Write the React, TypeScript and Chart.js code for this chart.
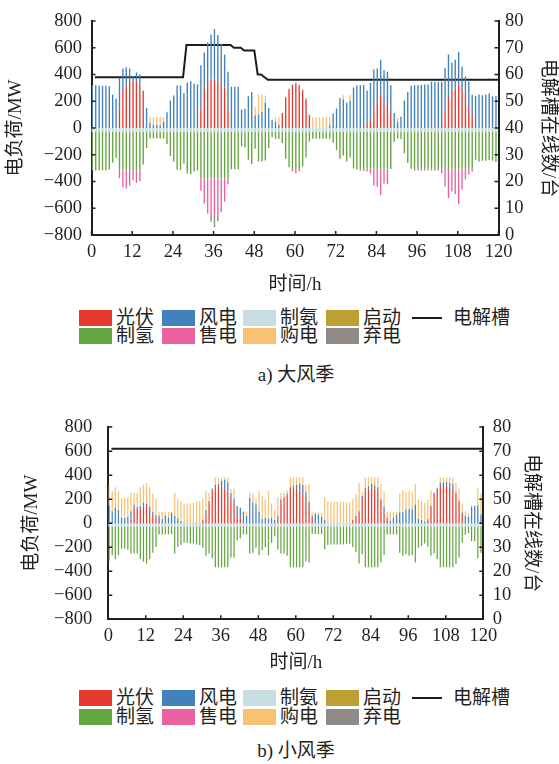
import React, { useEffect, useRef } from 'react';
import { Chart, registerables } from 'chart.js';

Chart.register(...registerables);

// ---------- categories ----------
const HOURS: string[] = Array.from({ length: 120 }, (_, i) => String(i + 1));

// ---------- a) 大风季 ----------
const pvA = [
  0, 0, 0, 0, 0, 0, 0, 0, 145, 270, 315, 345,
  355, 345, 320, 255, 0, 0, 0, 0, 0, 0, 0, 0,
  0, 0, 0, 0, 0, 0, 0, 0, 145, 300, 350, 362,
  365, 352, 330, 305, 135, 0, 0, 0, 0, 0, 0, 0,
  0, 0, 0, 0, 0, 0, 0, 0, 105, 225, 288, 320,
  330, 318, 282, 215, 95, 0, 0, 0, 0, 0, 0, 0,
  0, 0, 0, 0, 0, 0, 0, 0, 0, 38, 55, 138,
  188, 243, 170, 195, 105, 0, 0, 0, 0, 0, 0, 0,
  0, 0, 0, 0, 0, 0, 0, 38, 125, 225, 288, 295,
  325, 295, 238, 150, 88, 0, 0, 0, 0, 0, 0, 0,
];
const windA = [
  320, 320, 318, 315, 315, 312, 250, 220, 230, 175, 140, 100,
  30, 70, 80, 25, 150, 40, 25, 25, 20, 45, 118, 205,
  243, 318, 318, 262, 340, 350, 330, 325, 325, 265, 290, 338,
  375, 343, 300, 245, 285, 308, 308, 308, 138, 143, 238, 270,
  95, 100, 120, 188, 150, 62, 45, 25, 8, 5, 5, 5,
  8, 5, 5, 5, 5, 0, 0, 0, 0, 0, 20, 108,
  145, 225, 215, 188, 205, 302, 320, 320, 322, 242, 283, 300,
  257, 267, 262, 225, 215, 112, 45, 85, 205, 270, 315, 320,
  320, 322, 325, 325, 345, 345, 345, 307, 325, 325, 200, 215,
  245, 165, 147, 198, 160, 240, 250, 245, 250, 258, 238, 240,
];
const buyA = [
  0, 0, 0, 0, 0, 0, 0, 0, 0, 0, 0, 0,
  0, 0, 0, 0, 0, 40, 55, 55, 60, 35, 0, 0,
  0, 0, 0, 0, 0, 0, 0, 0, 0, 0, 0, 0,
  0, 0, 0, 0, 0, 0, 0, 0, 0, 0, 0, 0,
  60, 150, 130, 55, 0, 0, 35, 55, 0, 0, 0, 0,
  0, 0, 0, 0, 0, 80, 80, 80, 80, 80, 60, 0,
  0, 0, 30, 0, 40, 0, 0, 0, 0, 0, 0, 0,
  0, 0, 0, 0, 0, 0, 30, 0, 0, 0, 0, 0,
  0, 0, 0, 0, 0, 0, 0, 0, 0, 0, 0, 0,
  0, 0, 0, 0, 0, 0, 0, 0, 0, 0, 0, 0,
];
const h2A = [
  -290, -290, -290, -290, -290, -285, -235, -200, -290, -290, -290, -290,
  -290, -290, -290, -247, -125, -53, -53, -53, -53, -53, -95, -185,
  -225, -287, -287, -240, -315, -320, -300, -293, -350, -350, -350, -350,
  -350, -350, -350, -350, -350, -283, -283, -283, -113, -120, -213, -245,
  -130, -225, -225, -218, -125, -45, -55, -55, -88, -205, -268, -280,
  -280, -280, -262, -195, -75, -55, -55, -55, -55, -55, -55, -85,
  -140, -205, -180, -225, -195, -277, -285, -280, -280, -280, -280, -280,
  -280, -280, -280, -280, -282, -80, -53, -57, -163, -237, -280, -280,
  -280, -280, -280, -280, -280, -280, -280, -280, -280, -280, -280, -280,
  -280, -280, -280, -280, -280, -213, -225, -220, -220, -215, -220, -230,
];
const sellA = [
  0, 0, 0, 0, 0, 0, 0, 0, -60, -130, -137, -115,
  -75, -97, -83, 0, 0, 0, 0, 0, 0, 0, 0, 0,
  0, 0, 0, 0, 0, 0, 0, 0, -95, -190, -265, -275,
  -275, -275, -255, -175, -45, 0, 0, 0, 0, 0, 0, 0,
  0, 0, 0, 0, 0, 0, 0, 0, 0, 0, 0, -20,
  -33, -18, 0, 0, 0, 0, 0, 0, 0, 0, 0, 0,
  0, 0, 0, 0, 0, 0, 0, -15, -17, -20, -35, -125,
  -135, -195, -110, -115, 0, 0, 0, 0, 0, 0, 0, -12,
  -12, -12, -12, -12, -12, -12, -12, -33, -133, -220, -170, -190,
  -265, -155, -80, -43, -20, 0, 0, 0, 0, 0, 0, 0,
];
const curtailA = [
  0, 0, 0, 0, 0, 0, 0, 0, 0, 0, 0, 0,
  0, 0, 0, 0, 0, 0, 0, 0, 0, 0, 0, 0,
  0, 0, 0, 0, 0, 0, 0, 0, 0, 0, 0, -50,
  -90, -45, 0, 0, 0, 0, 0, 0, 0, 0, 0, 0,
  0, 0, 0, 0, 0, 0, 0, 0, 0, 0, 0, 0,
  0, 0, 0, 0, 0, 0, 0, 0, 0, 0, 0, 0,
  0, 0, 0, 0, 0, 0, 0, 0, 0, 0, 0, 0,
  0, 0, 0, 0, 0, 0, 0, 0, 0, 0, 0, 0,
  0, 0, 0, 0, 0, 0, 0, 0, 0, 0, 0, 0,
  0, 0, 0, 0, 0, 0, 0, 0, 0, 0, 0, 0,
];
const unitsA = [
  59, 59, 59, 59, 59, 59, 59, 59, 59, 59, 59, 59,
  59, 59, 59, 59, 59, 59, 59, 59, 59, 59, 59, 59,
  59, 59, 59, 71, 71, 71, 71, 71, 71, 71, 71, 71,
  71, 71, 71, 71, 71, 70, 70, 70, 69, 69, 69, 69,
  60, 60, 59, 58, 58, 58, 58, 58, 58, 58, 58, 58,
  58, 58, 58, 58, 58, 58, 58, 58, 58, 58, 58, 58,
  58, 58, 58, 58, 58, 58, 58, 58, 58, 58, 58, 58,
  58, 58, 58, 58, 58, 58, 58, 58, 58, 58, 58, 58,
  58, 58, 58, 58, 58, 58, 58, 58, 58, 58, 58, 58,
  58, 58, 58, 58, 58, 58, 58, 58, 58, 58, 58, 58,
];

// ---------- shared 制氨 ----------
const ammonia = [
  -25, -25, -25, -25, -25, -25, -25, -25, -25, -25, -25, -25,
  -25, -25, -25, -25, -25, -25, -25, -25, -25, -25, -25, -25,
  -25, -25, -25, -25, -25, -25, -25, -25, -25, -25, -25, -25,
  -25, -25, -25, -25, -25, -25, -25, -25, -25, -25, -25, -25,
  -25, -25, -25, -25, -25, -25, -25, -25, -25, -25, -25, -25,
  -25, -25, -25, -25, -25, -25, -25, -25, -25, -25, -25, -25,
  -25, -25, -25, -25, -25, -25, -25, -25, -25, -25, -25, -25,
  -25, -25, -25, -25, -25, -25, -25, -25, -25, -25, -25, -25,
  -25, -25, -25, -25, -25, -25, -25, -25, -25, -25, -25, -25,
  -25, -25, -25, -25, -25, -25, -25, -25, -25, -25, -25, -25,
];

// ---------- b) 小风季 ----------
const pvB = [
  0, 0, 0, 0, 0, 0, 0, 30, 122, 117, 109, 136,
  144, 90, 68, 41, 27, 0, 0, 0, 0, 0, 0, 0,
  0, 0, 0, 0, 0, 0, 27, 82, 177, 272, 299, 307,
  307, 286, 264, 204, 163, 54, 41, 0, 0, 0, 0, 0,
  0, 0, 0, 0, 0, 0, 27, 177, 210, 231, 286, 297,
  291, 272, 240, 199, 136, 46, 0, 0, 0, 0, 0, 0,
  0, 0, 0, 0, 0, 0, 27, 40, 90, 218, 272, 286,
  299, 291, 258, 177, 90, 41, 0, 0, 0, 0, 0, 0,
  0, 0, 0, 0, 0, 0, 33, 136, 245, 286, 313, 318,
  313, 299, 286, 245, 182, 82, 0, 0, 0, 0, 0, 0,
];
const windB = [
  144, 100, 128, 110, 46, 46, 54, 70, 33, 18, 35, 35,
  19, 46, 27, 27, 33, 35, 63, 46, 90, 60, 41, 19,
  0, 0, 0, 0, 0, 0, 0, 27, 8, 14, 19, 20,
  47, 76, 76, 46, 41, 90, 87, 95, 60, 210, 172, 155,
  95, 35, 46, 40, 46, 27, 33, 22, 5, 14, 13, 16,
  27, 55, 78, 59, 41, 17, 82, 73, 54, 27, 0, 0,
  0, 0, 0, 0, 0, 0, 0, 20, 10, 8, 19, 21,
  28, 22, 41, 22, 46, 5, 19, 46, 68, 90, 95, 117,
  117, 117, 155, 35, 27, 14, 0, 9, 8, 5, 22, 22,
  27, 36, 41, 13, 8, 8, 60, 54, 136, 144, 150, 73,
];
const buyB = [
  169, 167, 172, 157, 164, 164, 164, 153, 98, 118, 156, 147,
  172, 164, 150, 131, 35, 60, 32, 49, 0, 193, 158, 163,
  163, 163, 169, 169, 177, 182, 177, 163, 68, 5, 63, 54,
  27, 19, 41, 36, 82, 0, 0, 0, 35, 43, 73, 49,
  172, 191, 153, 227, 117, 82, 158, 54, 38, 27, 82, 68,
  63, 54, 63, 60, 150, 27, 8, 17, 36, 191, 182, 177,
  177, 177, 177, 177, 172, 172, 172, 180, 235, 33, 90, 74,
  54, 68, 82, 128, 128, 49, 76, 49, 27, 155, 177, 142,
  155, 147, 172, 169, 163, 155, 163, 127, 0, 8, 46, 41,
  41, 46, 54, 82, 96, 73, 35, 28, 14, 6, 141, 172,
];
const h2B = [
  -288, -242, -275, -242, -185, -185, -193, -228, -228, -228, -275, -293,
  -310, -275, -220, -174, -70, -70, -70, -70, -65, -228, -174, -157,
  -138, -138, -144, -144, -152, -157, -179, -247, -228, -266, -342, -342,
  -342, -342, -342, -261, -261, -119, -103, -70, -70, -228, -220, -179,
  -242, -201, -174, -242, -138, -84, -193, -228, -228, -247, -342, -342,
  -342, -342, -342, -293, -302, -65, -65, -65, -65, -193, -157, -152,
  -152, -152, -152, -152, -147, -147, -174, -215, -310, -234, -342, -342,
  -342, -342, -342, -302, -239, -70, -70, -70, -70, -220, -247, -234,
  -247, -239, -302, -179, -165, -144, -171, -247, -228, -274, -342, -342,
  -342, -342, -342, -315, -261, -138, -70, -57, -125, -125, -266, -220,
];
const sellB: number[] = [];
const curtailB: number[] = [];
const unitsB = [
  71, 71, 71, 71, 71, 71, 71, 71, 71, 71, 71, 71,
  71, 71, 71, 71, 71, 71, 71, 71, 71, 71, 71, 71,
  71, 71, 71, 71, 71, 71, 71, 71, 71, 71, 71, 71,
  71, 71, 71, 71, 71, 71, 71, 71, 71, 71, 71, 71,
  71, 71, 71, 71, 71, 71, 71, 71, 71, 71, 71, 71,
  71, 71, 71, 71, 71, 71, 71, 71, 71, 71, 71, 71,
  71, 71, 71, 71, 71, 71, 71, 71, 71, 71, 71, 71,
  71, 71, 71, 71, 71, 71, 71, 71, 71, 71, 71, 71,
  71, 71, 71, 71, 71, 71, 71, 71, 71, 71, 71, 71,
  71, 71, 71, 71, 71, 71, 71, 71, 71, 71, 71, 71,
];

// ---------- styles ----------
const COL = {
  pv: '#e4392f',
  wind: '#4281bb',
  ammonia: '#c7dde2',
  start: '#bd9f33',
  h2: '#64a540',
  sell: '#e9629f',
  buy: '#f8c274',
  curtail: '#908a86',
  line: '#1c1c1c',
  text: '#231f20',
  axis: '#231f20',
};
const FONT = "'Liberation Serif', 'Noto Sans CJK SC', serif";

type Geom = {
  H: number; top: number; bottom: number; left: number; right: number;
  yLabPad: number; y2LabPad: number; yTitlePad: number; y2TitlePad: number;
  xLabPad: number; xTitlePad: number;
};

const inwardTicks = {
  id: 'inwardTicks',
  afterDatasetsDraw(chart: any) {
    const { ctx, chartArea } = chart;
    const { left, right, bottom } = chartArea;
    const L = 4;
    ctx.save();
    ctx.strokeStyle = COL.axis;
    ctx.lineWidth = 1.5;
    ctx.beginPath();
    const y = chart.scales.y;
    y.ticks.forEach((t: any) => {
      const p = y.getPixelForValue(t.value);
      ctx.moveTo(left, p); ctx.lineTo(left + L, p);
    });
    const y2 = chart.scales.y2;
    y2.ticks.forEach((t: any) => {
      const p = y2.getPixelForValue(t.value);
      ctx.moveTo(right - L, p); ctx.lineTo(right, p);
    });
    const xl = chart.scales.xl;
    xl.ticks.forEach((t: any) => {
      const p = xl.getPixelForValue(t.value);
      ctx.moveTo(p, bottom); ctx.lineTo(p, bottom - L);
    });
    ctx.stroke();
    ctx.restore();
  },
};

function fmt(v: any) {
  const n = Number(v);
  return n < 0 ? '\u2212' + Math.abs(n) : String(n);
}

type PanelProps = {
  geom: Geom;
  pv: number[]; wind: number[]; buy: number[]; h2: number[];
  sell: number[]; curtail: number[]; units: number[];
  style: React.CSSProperties;
};

function Panel(p: PanelProps) {
  const ref = useRef<HTMLCanvasElement | null>(null);
  useEffect(() => {
    const g = p.geom;
    const tickFont = { family: FONT, size: 18.5 };
    const titleFont = { family: FONT, size: 19 };
    const barCommon = { barPercentage: 0.8, categoryPercentage: 1, borderWidth: 0 };
    const chart = new Chart(ref.current as HTMLCanvasElement, {
      type: 'bar',
      data: {
        labels: HOURS,
        datasets: [
          { label: '光伏', data: p.pv, backgroundColor: COL.pv, ...barCommon },
          { label: '风电', data: p.wind, backgroundColor: COL.wind, ...barCommon },
          { label: '购电', data: p.buy, backgroundColor: COL.buy, ...barCommon },
          { label: '制氨', data: ammonia, backgroundColor: COL.ammonia, barPercentage: 1, categoryPercentage: 1, borderWidth: 0 },
          { label: '制氢', data: p.h2, backgroundColor: COL.h2, ...barCommon },
          { label: '售电', data: p.sell, backgroundColor: COL.sell, ...barCommon },
          { label: '弃电', data: p.curtail, backgroundColor: COL.curtail, ...barCommon },
          {
            type: 'line',
            label: '电解槽',
            data: p.units.map((v, i) => ({ x: i + 1, y: v })),
            xAxisID: 'xl',
            yAxisID: 'y2',
            borderColor: COL.line,
            borderWidth: 2,
            pointRadius: 0,
            fill: false,
            tension: 0,
          } as any,
        ],
      },
      options: {
        animation: false,
        responsive: false,
        maintainAspectRatio: false,
        events: [],
        layout: { padding: { top: g.top, left: 0, right: 0, bottom: 0 } },
        plugins: { legend: { display: false }, tooltip: { enabled: false } },
        scales: {
          x: { type: 'category', stacked: true, display: false, offset: true },
          xl: {
            type: 'linear',
            position: 'bottom',
            offset: false,
            min: 0,
            max: 120,
            ticks: { stepSize: 12, padding: g.xLabPad, font: tickFont, color: COL.text, maxRotation: 0, autoSkip: false },
            grid: { display: false, drawTicks: false, offset: false },
            border: { display: true, color: COL.axis, width: 2 },
            title: { display: true, text: '时间/h', font: titleFont, color: COL.text, padding: { top: 0, bottom: g.xTitlePad } },
            afterFit: (s: any) => { s.height = g.H - g.bottom; },
          },
          y: {
            type: 'linear',
            position: 'left',
            stacked: true,
            min: -800,
            max: 800,
            ticks: { stepSize: 200, autoSkip: false, padding: g.yLabPad, font: tickFont, color: COL.text, callback: (v: any) => fmt(v) },
            grid: { display: false, drawTicks: false },
            border: { display: true, color: COL.axis, width: 2 },
            title: { display: true, text: '电负荷/MW', font: titleFont, color: COL.text, padding: { top: g.yTitlePad, bottom: 0 } },
            afterFit: (s: any) => { s.width = g.left; },
          },
          y2: {
            type: 'linear',
            position: 'right',
            min: 0,
            max: 80,
            ticks: { stepSize: 10, autoSkip: false, padding: g.y2LabPad, font: tickFont, color: COL.text },
            grid: { display: false, drawTicks: false },
            border: { display: true, color: COL.axis, width: 2 },
            title: { display: true, text: '电解槽在线数/台', font: titleFont, color: COL.text, padding: { top: g.y2TitlePad, bottom: 0 } },
            afterFit: (s: any) => { s.width = 559 - g.right; },
          },
        },
      } as any,
      plugins: [inwardTicks],
    });
    return () => chart.destroy();
  }, []);
  return (
    <canvas
      ref={ref}
      width={559}
      height={p.geom.H}
      style={{ position: 'absolute', left: 0, width: 559, height: p.geom.H, ...p.style }}
    />
  );
}

const LEG_ROW1 = [
  { label: '光伏', color: COL.pv },
  { label: '风电', color: COL.wind },
  { label: '制氨', color: COL.ammonia },
  { label: '启动', color: COL.start },
];
const LEG_ROW2 = [
  { label: '制氢', color: COL.h2 },
  { label: '售电', color: COL.sell },
  { label: '购电', color: COL.buy },
  { label: '弃电', color: COL.curtail },
];
const LEG_X = [79, 162, 243, 326];

function Legend({ y1, y2 }: { y1: number; y2: number }) {
  const textStyle: React.CSSProperties = {
    position: 'absolute', fontFamily: FONT, fontSize: 19, lineHeight: '22px',
    color: COL.text, whiteSpace: 'nowrap',
  };
  const row = (items: { label: string; color: string }[], y: number) =>
    items.map((it, i) => (
      <React.Fragment key={it.label + y}>
        <div style={{ position: 'absolute', left: LEG_X[i], top: y - 8, width: 33, height: 16, background: it.color }} />
        <div style={{ ...textStyle, left: LEG_X[i] + 37, top: y - 11 }}>{it.label}</div>
      </React.Fragment>
    ));
  return (
    <>
      {row(LEG_ROW1, y1)}
      {row(LEG_ROW2, y2)}
      <div style={{ position: 'absolute', left: 412, top: y1 - 1, width: 30, height: 2, background: COL.line }} />
      <div style={{ ...textStyle, left: 453, top: y1 - 11 }}>电解槽</div>
    </>
  );
}

function Caption({ text, y }: { text: string; y: number }) {
  return (
    <div style={{ position: 'absolute', left: 0, width: 592, top: y - 11, textAlign: 'center', fontFamily: FONT, fontSize: 19, lineHeight: '22px', color: COL.text }}>
      {text}
    </div>
  );
}

const GEOM_A: Geom = {
  H: 300, top: 21, bottom: 235, left: 91.5, right: 498.5,
  yLabPad: 9.5, y2LabPad: 6.5, yTitlePad: 4.6, y2TitlePad: 0,
  xLabPad: 6, xTitlePad: 3.6,
};
const GEOM_B: Geom = {
  H: 280, top: 23.3, bottom: 219.3, left: 108.3, right: 483.3,
  yLabPad: 16, y2LabPad: 9.4, yTitlePad: 20.6, y2TitlePad: 16.6,
  xLabPad: 5.6, xTitlePad: 5.6,
};

export default function App() {
  return (
    <div style={{ position: 'absolute', left: 0, top: 0, width: 559, height: 764, background: '#ffffff', overflow: 'hidden' }}>
      <Panel geom={GEOM_A} pv={pvA} wind={windA} buy={buyA} h2={h2A} sell={sellA} curtail={curtailA} units={unitsA} style={{ top: 0 }} />
      <Legend y1={318} y2={336} />
      <Caption text="a) 大风季" y={375} />
      <Panel geom={GEOM_B} pv={pvB} wind={windB} buy={buyB} h2={h2B} sell={sellB} curtail={curtailB} units={unitsB} style={{ top: 400 }} />
      <Legend y1={698} y2={717} />
      <Caption text="b) 小风季" y={751} />
    </div>
  );
}
